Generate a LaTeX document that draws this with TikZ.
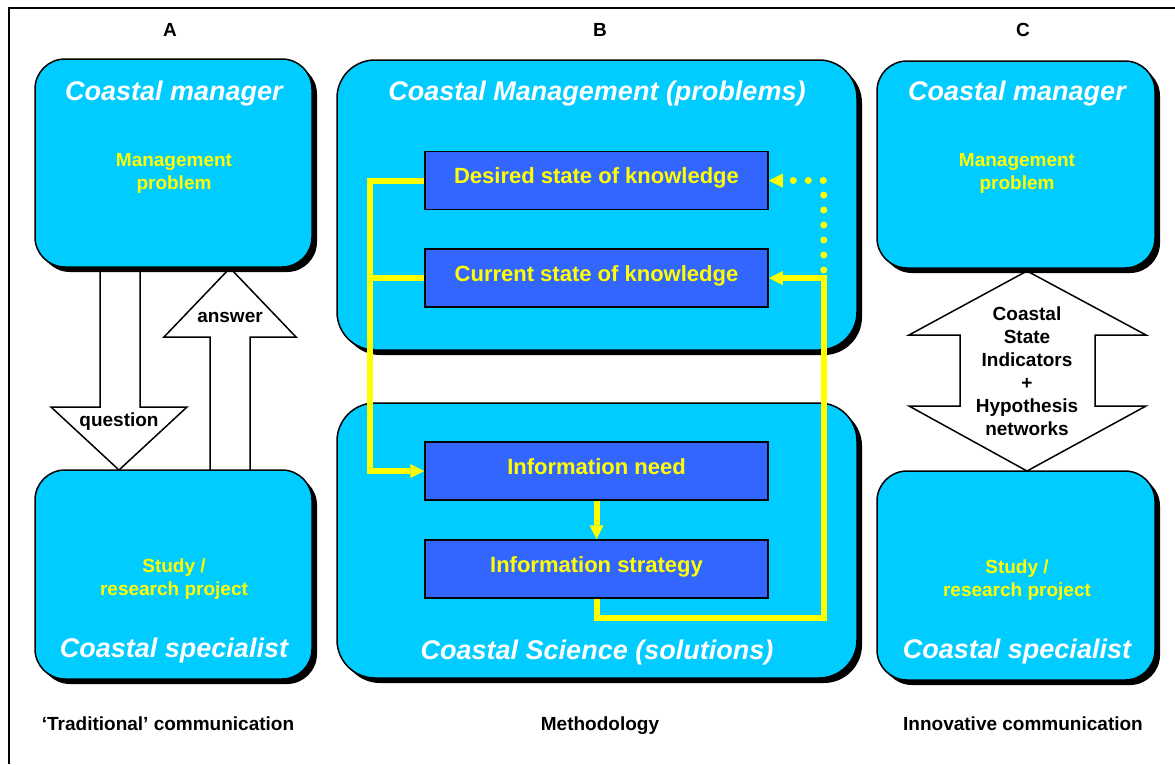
\documentclass[tikz,border=0pt]{standalone}
\usepackage{fontspec}
\setmainfont{Liberation Sans}
\usetikzlibrary{arrows.meta,shadows,calc}

\definecolor{sky}{HTML}{00CCFF}
\definecolor{deepblue}{HTML}{3366FF}
\definecolor{ylw}{HTML}{FFFF00}

\newcommand{\fsTitle}{\fontsize{27}{32}\selectfont\bfseries\itshape}
\newcommand{\fsInner}{\fontsize{22}{26}\selectfont\bfseries}
\newcommand{\fsLabel}{\fontsize{19}{23}\selectfont\bfseries}

\tikzset{
  panel/.style={draw=black, line width=1.5pt, fill=sky, rounded corners=#1,
    inner sep=0pt,
    drop shadow={shadow xshift=5pt, shadow yshift=-5pt, fill=black, opacity=1}},
  infobox/.style={draw=black, line width=1.5pt, fill=deepblue,
    minimum width=343pt, minimum height=58pt, inner sep=0pt,
    text=ylw, font=\fsInner, text height=14pt, text depth=8pt},
  txt/.style={inner sep=0pt, anchor=base},
  title/.style={txt, font=\fsTitle, text=white},
  note/.style={txt, font=\fsLabel, text=ylw},
  caption/.style={txt, font=\fsLabel, text=black},
  blockarrow/.style={draw=black, fill=white, line width=1.5pt, line join=miter},
  ytip/.style={-{Triangle[length=14pt,width=14pt,line width=0pt]}},
  yline/.style={draw=ylw, line width=6pt, line join=miter, ytip},
  ydots/.style={draw=ylw, line width=7pt, line cap=round,
    dash pattern=on 0pt off 15pt, ytip},
}

\begin{document}
\begin{tikzpicture}[x=1pt, y=-1pt]
\useasboundingbox (0,0) rectangle (1175,764);

% outer frame
\draw[line width=2pt] (9,764) -- (9,8) -- (1175,8);

% column letters
\node[caption] (colA) at (170,36) {A};
\node[caption] (colB) at (600,36) {B};
\node[caption] (colC) at (1023,36) {C};

% column A: question / answer block arrows
\draw[blockarrow] (100,250) -- (100,407) -- (51,407) -- (119,470)
  -- (187,407) -- (140,407) -- (140,250);
\draw[blockarrow] (210,490) -- (210,337) -- (164,337) -- (230,268)
  -- (296,337) -- (250,337) -- (250,490);

% column C: two-way block arrow
\draw[blockarrow] (1027,271) -- (1146,335) -- (1095,335) -- (1095,406)
  -- (1146,406) -- (1027,471) -- (909,406) -- (960,406) -- (960,335)
  -- (909,335) -- cycle;

% panels
\node[panel=30, minimum width=277pt, minimum height=208pt] (mgrA) at (173.5,163) {};
\node[panel=30, minimum width=277pt, minimum height=209pt] (specA) at (173.5,574.5) {};
\node[panel=38, minimum width=520pt, minimum height=290pt] (mgmtB) at (597,205) {};
\node[panel=38, minimum width=520pt, minimum height=275pt] (sciB) at (597,540.5) {};
\node[panel=30, minimum width=278pt, minimum height=207pt] (mgrC) at (1016,164.5) {};
\node[panel=30, minimum width=278pt, minimum height=209pt] (specC) at (1016,575.5) {};

% arrow labels
\node[caption] (qlab) at (119,426) {question};
\node[caption] (alab) at (230,322) {answer};
\node[caption] (csi1) at (1027,320) {Coastal};
\node[caption] (csi2) at (1027,343) {State};
\node[caption] (csi3) at (1027,366) {Indicators};
\node[caption] (csi4) at (1027,389) {+};
\node[caption] (csi5) at (1027,412) {Hypothesis};
\node[caption] (csi6) at (1027,435) {networks};

% panel texts, column A
\node[title] (tA1) at (174,100) {Coastal manager};
\node[note] (nA1) at (174,166) {Management};
\node[note] (nA2) at (174,189) {problem};
\node[note] (nA3) at (174,572) {Study /};
\node[note] (nA4) at (174,595) {research project};
\node[title] (tA2) at (174,657) {Coastal specialist};

% panel texts, column C
\node[title] (tC1) at (1017,100) {Coastal manager};
\node[note] (nC1) at (1017,166) {Management};
\node[note] (nC2) at (1017,189) {problem};
\node[note] (nC3) at (1017,573) {Study /};
\node[note] (nC4) at (1017,596) {research project};
\node[title] (tC2) at (1017,658) {Coastal specialist};

% panel texts, column B
\node[title] (tB1) at (597,100) {Coastal Management (problems)};
\node[title] (tB2) at (597,659) {Coastal Science (solutions)};

% methodology steps
\node[infobox] (desired)  at (596.5,180.5) {Desired state of knowledge};
\node[infobox] (current)  at (596.5,278)   {Current state of knowledge};
\node[infobox] (need)     at (596.5,471)   {Information need};
\node[infobox] (strategy) at (596.5,569)   {Information strategy};

% yellow flow lines
\coordinate (rt) at ($(current.east)+(55,0)$);
\draw[yline] (desired.west) -- ++(-54,0) |- (need.west);
\draw[yline, -] (current.west) -- ++(-54,0);
\draw[yline] (need.south) -- (strategy.north);
\draw[yline] (strategy.south) -- ++(0,19) -| (rt) -- (current.east);
\draw[ydots] ($(rt)+(0,-8)$) |- (desired.east);

% captions
\node[caption] (capA) at (168,730) {‘Traditional’ communication};
\node[caption] (capB) at (600,730) {Methodology};
\node[caption] (capC) at (1023,730) {Innovative communication};
\end{tikzpicture}
\end{document}
